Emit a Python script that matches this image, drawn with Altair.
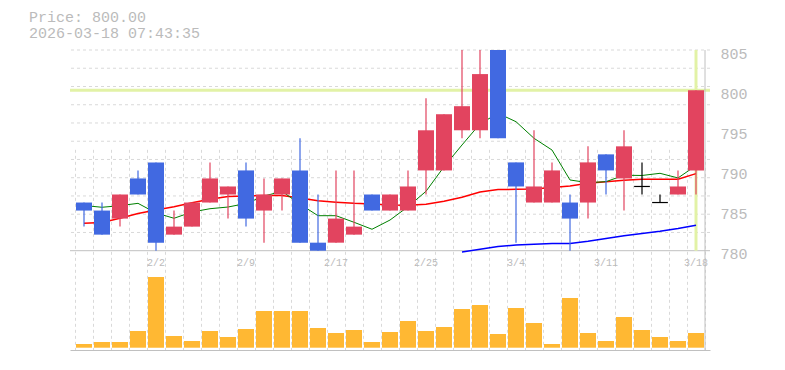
import altair as alt
import pandas as pd

# ---------------- data ----------------
dates = ["1/27", "1/28", "1/29", "1/30", "2/2", "2/3", "2/4", "2/5", "2/6",
         "2/9", "2/10", "2/12", "2/13", "2/16", "2/17", "2/18", "2/19", "2/20",
         "2/24", "2/25", "2/26", "2/27", "3/2", "3/3", "3/4", "3/5", "3/6",
         "3/9", "3/10", "3/11", "3/12", "3/13", "3/16", "3/17", "3/18"]
opens = [786, 785, 784, 789, 791, 782, 783, 786, 787, 790, 785, 787, 790, 781,
         781, 782, 787, 785, 785, 790, 790, 795, 795, 806, 791, 786, 786, 786,
         786, 792, 789, 788, 786, 787, 790]
highs = [786, 786, 787, 790, 791, 785, 786, 791, 788, 791, 789, 789, 794, 787,
         790, 790, 787, 787, 790, 799, 797, 806, 806, 806, 791, 795, 791, 787,
         793, 792, 795, 791, 787, 790, 800]
lows = [783, 782, 783, 787, 780, 782, 783, 786, 784, 783, 781, 785, 781, 780,
        781, 782, 785, 785, 785, 787, 790, 794, 794, 794, 781, 786, 786, 780,
        784, 787, 785, 787, 786, 787, 787]
closes = [785, 782, 787, 787, 781, 783, 786, 789, 788, 784, 787, 789, 781, 780,
          784, 783, 785, 787, 788, 795, 797, 798, 802, 794, 788, 788, 790, 784,
          791, 790, 793, 788, 786, 788, 800]
volumes = [37, 57, 57, 167, 707, 117, 67, 167, 107, 187, 367, 367, 367, 197,
           147, 177, 57, 157, 267, 167, 207, 387, 427, 137, 397, 247, 37, 497,
           147, 67, 307, 177, 107, 67, 147]
ma_short = [785.63, 785.41, 785.61, 785.90, 784.70, 784.04, 784.82, 785.23,
            785.44, 785.88, 786.80, 787.40, 785.80, 784.36, 784.36, 783.54,
            782.67, 783.82, 785.48, 787.40, 790.46, 793.17, 795.80, 797.11,
            796.07, 794.00, 792.54, 788.81, 788.47, 788.60, 789.40, 789.37,
            789.64, 789.06, 790.60]
ma_mid = [783.41, 783.51, 784.04, 784.63, 785.07, 785.48, 785.98, 786.40,
          786.75, 786.81, 786.88, 786.88, 786.56, 786.22, 786.04, 785.90,
          785.82, 785.69, 785.67, 785.78, 786.15, 786.66, 787.31, 787.61,
          787.65, 787.69, 787.87, 788.06, 788.40, 788.58, 788.78, 788.91,
          788.91, 788.91, 789.60]
ma_long = [None] * 21 + [779.85, 780.17, 780.52, 780.71, 780.80, 780.90,
                         780.90, 781.18, 781.52, 781.87, 782.14, 782.42,
                         782.77, 783.18]
tick_labels = ["2/2", "2/9", "2/17", "2/25", "3/4", "3/11", "3/18"]
price_ticks = [780, 785, 790, 795, 800, 805]
price_min, price_max = 780, 805
last_price = 800.00
timestamp = "2026-03-18 07:43:35"

# ---------------- styles ----------------
FONT = "Liberation Mono"
TXT = "#bbbbbb"
GRID = "#d9d9d9"
BORDER = "#c0c0c0"
UP = "#e2445f"
DOWN = "#4169e1"
VOL = "#ffb833"
NOW = "#e2f2a6"

n = len(dates)
df = pd.DataFrame({"i": range(n), "date": dates, "open": opens, "high": highs,
                   "low": lows, "close": closes, "volume": volumes,
                   "ma_short": ma_short, "ma_mid": ma_mid, "ma_long": ma_long})
df["xc"] = df["i"] + 0.5
df["xl"] = df["xc"] - 0.4375
df["xr"] = df["xc"] + 0.4375
df["kind"] = ["up" if c > o else ("down" if c < o else "doji")
              for o, c in zip(opens, closes)]

xscale = alt.Scale(domain=[0, n], nice=False, zero=False)
xaxis = alt.Axis(values=list(range(n + 1)), grid=True, gridDash=[3, 3],
                 gridColor=GRID, gridWidth=1, labels=False, ticks=False,
                 domain=True, domainColor=BORDER, domainWidth=1, title=None)


def X(field):
    return alt.X(field, type="quantitative", scale=xscale, axis=xaxis)


pscale = alt.Scale(domain=[price_min, price_max], range=[200.7, 0],
                   nice=False, zero=False)
paxis = alt.Axis(orient="right", values=price_ticks, grid=False, ticks=False,
                 domain=False, labelPadding=10, labelFont=FONT,
                 labelFontSize=15, labelColor=TXT, labelBaseline="middle",
                 labelOffset=3, labelFlush=False, labelOverlap=False,
                 title=None)


def Y(field):
    return alt.Y(field, type="quantitative", scale=pscale, axis=paxis)


color = alt.Color("kind:N", scale=alt.Scale(domain=["up", "down", "doji"],
                                            range=[UP, DOWN, "#000000"]),
                  legend=None)

base = alt.Chart(df)

hgrid = alt.Chart(pd.DataFrame(
    {"y": [price_min + k * (price_max - price_min) / 11 for k in range(1, 12)]}
)).mark_rule(color=GRID, strokeDash=[3, 3], strokeWidth=1).encode(y=Y("y"))

bottom_line = alt.Chart(pd.DataFrame({"y": [price_min]})).mark_rule(
    color=BORDER, strokeWidth=1).encode(y=Y("y"))

now_h = alt.Chart(pd.DataFrame({"y": [last_price]})).mark_rule(
    color=NOW, strokeWidth=3).encode(y=Y("y"))

now_v = alt.Chart(pd.DataFrame({"xc": [n - 0.5], "y": [price_max],
                                "y2": [price_min]})).mark_rule(
    color=NOW, strokeWidth=3).encode(x=X("xc"), y=Y("y"), y2="y2")

line_long = base.mark_line(color="#0000ff", strokeWidth=1.5).encode(
    x=X("xc"), y=Y("ma_long"))
line_mid = base.mark_line(color="#ff0000", strokeWidth=1.5).encode(
    x=X("xc"), y=Y("ma_mid"))
line_short = base.mark_line(color="#008000", strokeWidth=1).encode(
    x=X("xc"), y=Y("ma_short"))

wicks = base.mark_rule(strokeWidth=1.2, clip=True).encode(
    x=X("xc"), y=Y("low"), y2="high", color=color)

boxes = base.transform_filter("datum.kind != 'doji'").mark_bar(
    width=16, clip=True).encode(x=X("xc"), y=Y("open"), y2="close",
                                color=color)

dojis = base.transform_filter("datum.kind == 'doji'").mark_rule(
    strokeWidth=1.2, color="#000000").encode(x=X("xl"), x2="xr", y=Y("open"))

price = alt.layer(hgrid, bottom_line, now_h, now_v, line_long, line_mid,
                  line_short, wicks, boxes, dojis)

vol = base.mark_bar(color=VOL, width=16).encode(
    x=X("xc"),
    y=alt.Y("volume:Q", scale=alt.Scale(domain=[0, 800], range=[297.7, 217.7],
                                        nice=False, zero=True), axis=None))

lab_df = df[df["date"].isin(tick_labels)]
labels = alt.Chart(lab_df).mark_text(
    font=FONT, fontSize=10, color=TXT, baseline="middle", align="center"
).encode(x=X("xc"), y=alt.value(212.5), text="date:N")

border = alt.Chart(pd.DataFrame({"x": [n]})).mark_rule(
    color=BORDER, strokeWidth=1).encode(x=X("x"))

chart = alt.layer(price, vol, labels, border).resolve_scale(
    y="independent"
).properties(
    width=640, height=300,
    padding={"left": 70, "top": 50, "right": 75, "bottom": 20},
    autosize=alt.AutoSizeParams(type="none"),
    title=alt.TitleParams(
        text=[f"Price: {last_price:.2f}", timestamp], anchor="start",
        frame="group", dx=-41, offset=5, font=FONT, fontSize=15,
        fontWeight="normal", color=TXT, lineHeight=16),
    background="white",
).configure_view(stroke=None)

chart.save("out.html", embed_options={"renderer": "svg", "actions": False})
